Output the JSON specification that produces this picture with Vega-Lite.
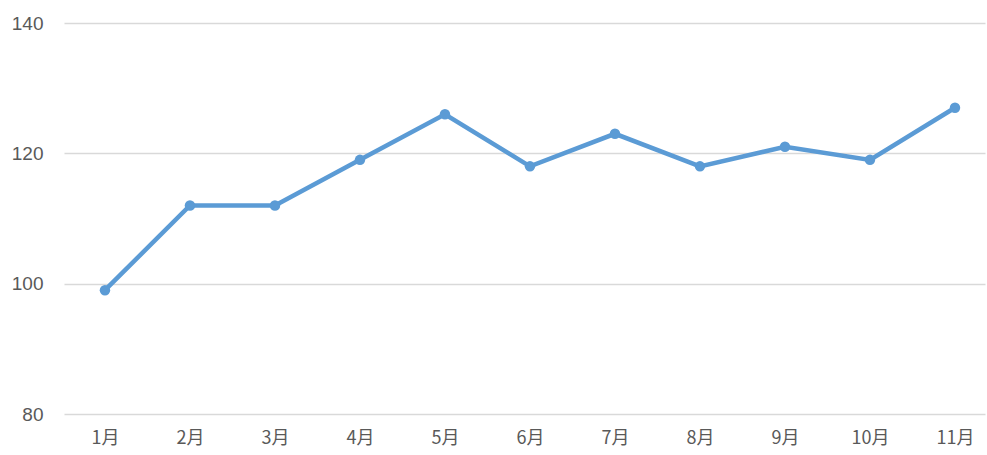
{
  "$schema": "https://vega.github.io/schema/vega-lite/v6.json",
  "autosize": "none",
  "padding": {"left": 64, "top": 23, "right": 2, "bottom": 41},
  "width": 921,
  "height": 391,
  "background": "white",
  "config": {"view": {"stroke": null}, "font": "Noto Sans CJK SC"},
  "data": {"values": [
    {"month": "1月", "value": 99},
    {"month": "2月", "value": 112},
    {"month": "3月", "value": 112},
    {"month": "4月", "value": 119},
    {"month": "5月", "value": 126},
    {"month": "6月", "value": 118},
    {"month": "7月", "value": 123},
    {"month": "8月", "value": 118},
    {"month": "9月", "value": 121},
    {"month": "10月", "value": 119},
    {"month": "11月", "value": 127}
  ]},
  "mark": {"type": "line", "color": "#5B9BD5", "strokeWidth": 4.5, "point": {"filled": true, "size": 110, "color": "#5B9BD5", "opacity": 1}},
  "encoding": {
    "x": {"field": "month", "type": "ordinal", "sort": null,
      "scale": {"type": "point", "padding": 0.4176, "align": 0.577},
      "axis": {"title": null, "labelAngle": 0, "domain": false, "ticks": false, "labelFontSize": 18, "labelColor": "#595959", "labelPadding": 15, "labelFont": "Noto Sans CJK SC"}},
    "y": {"field": "value", "type": "quantitative",
      "scale": {"domain": [80, 140], "nice": false, "zero": false},
      "axis": {"title": null, "values": [80, 100, 120, 140], "domain": false, "ticks": false, "labelFontSize": 19, "labelColor": "#595959", "labelPadding": 21, "gridColor": "#D9D9D9", "gridWidth": 1.3, "labelFont": "Liberation Sans"}}
  }
}
